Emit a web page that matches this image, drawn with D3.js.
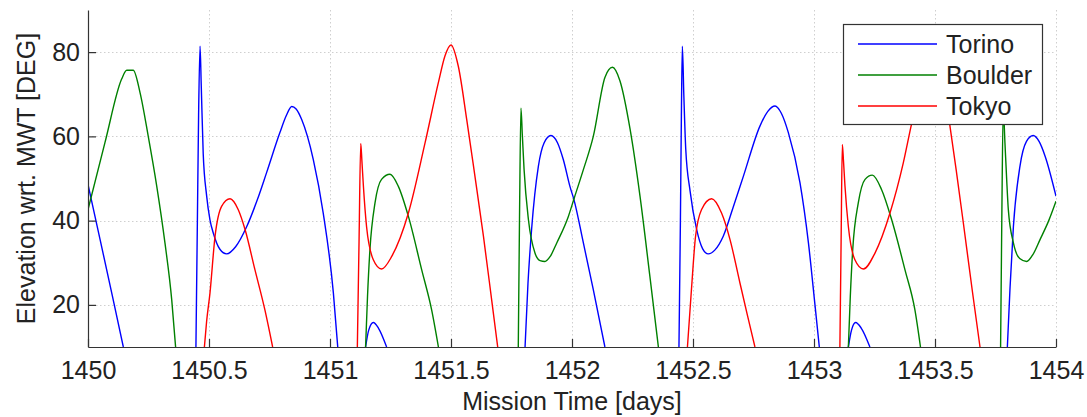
<!DOCTYPE html>
<html>
<head>
<meta charset="utf-8">
<script src="https://cdn.jsdelivr.net/npm/d3@7"></script>
<style>
  html, body { margin: 0; padding: 0; background: #fff; }
  svg { display: block; }
  text { font-family: "Liberation Sans", Arial, Helvetica, sans-serif; fill: #222; }
</style>
</head>
<body>
<svg id="chart" width="1087" height="417"></svg>
<script>
// ---- Data; null marks a break between passes ----
const seriesNames = ["Torino", "Boulder", "Tokyo"];
const seriesColors = ["#0000ff", "#008000", "#ff0000"];

const torinoT = [1450.000,1450.05,1450.1,1450.146, null,
  1450.446,1450.452,1450.457,1450.463,1450.468,1450.476,1450.49,1450.504,1450.518,1450.545,1450.573,1450.61,1450.656,1450.7,1450.738,1450.793,1450.82,1450.842,1450.86,1450.883,1450.931,1450.972,1451.014,1451.032, null,
  1451.147,1451.16,1451.179,1451.2,1451.234, null,
  1451.806,1451.818,1451.833,1451.861,1451.885,1451.913,1451.94,1451.964,1451.992,1452.008,1452.047,1452.088,1452.136, null,
  1452.442,1452.448,1452.452,1452.456,1452.462,1452.47,1452.488,1452.515,1452.54,1452.563,1452.59,1452.625,1452.665,1452.708,1452.777,1452.81,1452.839,1452.865,1452.894,1452.942,1452.977,1453.004,1453.022, null,
  1453.142,1453.155,1453.172,1453.195,1453.231, null,
  1453.799,1453.81,1453.824,1453.851,1453.878,1453.906,1453.93,1453.955,1454.0];
const torinoE = [48.6,35.5,22.3,10, null,
  10,40,65,81.4,72,56,46,40.2,37,33.2,32.1,33.8,38.6,45,51.4,60.9,65,67.1,66.5,64,54.5,41.8,22.8,10, null,
  10,14,15.8,14.5,10, null,
  10,25,37.9,52.9,58.5,60.2,58.5,54.5,48,45,34.7,23.6,10, null,
  10,40,65,81.4,70,57,47,37.9,33.3,32.1,33,36.3,43,50.5,62.5,66,67.2,65.5,60.9,49,34.7,20,10, null,
  10,14,15.8,14.5,10, null,
  10,24,38.6,52.9,58.8,60.2,58.8,55.3,45.8];

const boulderT = [1450.0,1450.07,1450.139,1450.16,1450.187,1450.215,1450.249,1450.284,1450.318,1450.346,1450.362, null,
  1451.147,1451.155,1451.165,1451.186,1451.213,1451.248,1451.282,1451.324,1451.379,1451.42,1451.448, null,
  1451.778,1451.783,1451.789,1451.795,1451.802,1451.82,1451.847,1451.868,1451.888,1451.91,1451.937,1451.985,1452.01,1452.047,1452.088,1452.136,1452.167,1452.198,1452.24,1452.281,1452.322,1452.357, null,
  1453.142,1453.15,1453.16,1453.183,1453.211,1453.241,1453.279,1453.321,1453.376,1453.417,1453.44, null,
  1453.771,1453.776,1453.782,1453.789,1453.796,1453.803,1453.824,1453.85,1453.879,1453.905,1453.934,1453.97,1454.0];
const boulderE = [42.6,58.5,73.6,75.7,75.7,70.4,60,48.2,34.7,21.2,10, null,
  10,22,33.1,44.2,49.8,51,48.2,41,28.3,18.8,10, null,
  10,40,66.7,60,52.1,40.2,32.3,30.5,30.3,31.5,34.7,41,45.5,52.1,60,74,76.4,73.2,61.7,45.8,26.7,10, null,
  10,22,33.1,44.2,49.8,50.8,47.4,40.2,28.3,18.8,10, null,
  10,40,66.7,58.5,50,42.6,34.7,31,30.3,32,35.5,40,44.6];

const tokyoT = [1450.481,1450.49,1450.504,1450.525,1450.552,1450.587,1450.621,1450.649,1450.69,1450.731,1450.763, null,
  1451.113,1451.12,1451.127,1451.132,1451.138,1451.151,1451.179,1451.213,1451.255,1451.324,1451.393,1451.448,1451.475,1451.5,1451.53,1451.565,1451.599,1451.634,1451.668,1451.693, null,
  1452.477,1452.494,1452.51,1452.535,1452.577,1452.618,1452.653,1452.694,1452.725,1452.756, null,
  1453.107,1453.112,1453.117,1453.122,1453.128,1453.142,1453.169,1453.204,1453.252,1453.314,1453.369,1453.403,1453.45,1453.493,1453.523,1453.558,1453.59,1453.617,1453.655,1453.686];
const tokyoE = [10,16,22.8,36.3,43.4,45.2,42.6,37.9,28.3,18.8,10, null,
  10,35,58.3,54,48.2,38.6,30.7,28.5,31.5,41.8,58.5,72.8,79.1,81.7,76.7,64,50.5,36.3,21.2,10, null,
  10,24,36,42.6,45.2,41.8,35.5,25.2,17.5,10, null,
  10,35,58.1,54,48.2,38.6,30.7,28.5,32.3,41.8,53.7,62.9,74,81.5,76.5,64,51,39.5,23,10];

const xTicks = [1450, 1450.5, 1451, 1451.5, 1452, 1452.5, 1453, 1453.5, 1454];
const xTickLabels = ["1450", "1450.5", "1451", "1451.5", "1452", "1452.5", "1453", "1453.5", "1454"];
const yTicks = [20, 40, 60, 80];
const yTickLabels = ["20", "40", "60", "80"];
const xTitle = "Mission Time [days]";
const yTitle = "Elevation wrt. MWT [DEG]";

// ---- Layout ----
const svg = d3.select("#chart");
const plot = { left: 88, right: 1056, top: 10, bottom: 347 };
const x = d3.scaleLinear().domain([1450, 1454]).range([plot.left, plot.right]);
const y = d3.scaleLinear().domain([10, 90]).range([plot.bottom, plot.top]);
const FS = 25;

svg.append("rect").attr("width", 1087).attr("height", 417).attr("fill", "#fff");

// Grid
const grid = svg.append("g").attr("stroke", "#cfcfcf").attr("stroke-width", 1).attr("stroke-dasharray", "1.5,2.5");
grid.selectAll("line.vx").data(xTicks.slice(1)).join("line")
  .attr("x1", d => Math.round(x(d)) + 0.5).attr("x2", d => Math.round(x(d)) + 0.5)
  .attr("y1", plot.top).attr("y2", plot.bottom);
grid.selectAll("line.hy").data(yTicks).join("line")
  .attr("x1", plot.left).attr("x2", plot.right)
  .attr("y1", d => Math.round(y(d)) + 0.5).attr("y2", d => Math.round(y(d)) + 0.5);

// Curves
svg.append("clipPath").attr("id", "clip").append("rect")
  .attr("x", plot.left).attr("y", plot.top)
  .attr("width", plot.right - plot.left).attr("height", plot.bottom - plot.top);

function toPoints(ts, es) { return ts.map((t, i) => [t, es[i]]); }
const seriesData = [toPoints(torinoT, torinoE), toPoints(boulderT, boulderE), toPoints(tokyoT, tokyoE)];
const line = d3.line()
  .defined(d => d[0] != null && d[1] != null)
  .x(d => x(d[0])).y(d => y(d[1]))
  .curve(d3.curveMonotoneX);
const curves = svg.append("g").attr("clip-path", "url(#clip)");
seriesData.forEach((pts, i) => {
  curves.append("path").attr("d", line(pts)).attr("fill", "none")
    .attr("stroke", seriesColors[i]).attr("stroke-width", 1.4).attr("stroke-linejoin", "round");
});

// Axes
const xAxis = d3.axisBottom(x).tickValues(xTicks).tickFormat((d, i) => xTickLabels[i]).tickSizeInner(-8).tickSizeOuter(0).tickPadding(20);
const gx = svg.append("g").attr("transform", `translate(0,${plot.bottom})`).call(xAxis);
const yAxis = d3.axisLeft(y).tickValues(yTicks).tickFormat((d, i) => yTickLabels[i]).tickSizeInner(-8).tickSizeOuter(0).tickPadding(16);
const gy = svg.append("g").attr("transform", `translate(${plot.left},0)`).call(yAxis);
[gx, gy].forEach(g => {
  g.select(".domain").attr("stroke", "#333").attr("stroke-width", 1.2);
  g.selectAll(".tick line").attr("stroke", "#333").attr("stroke-width", 1.2);
  g.selectAll(".tick text").attr("font-size", FS).attr("fill", "#222")
    .style("font-family", '"Liberation Sans", Arial, sans-serif');
});
gx.selectAll(".tick text").attr("dy", "0.71em").attr("y", 14);
gy.selectAll(".tick text").attr("x", -8);

// Titles
svg.append("text").attr("x", (plot.left + plot.right) / 2).attr("y", 410)
  .attr("text-anchor", "middle").attr("font-size", FS).text(xTitle);
svg.append("text").attr("transform", `translate(35,${(plot.top + plot.bottom) / 2}) rotate(-90)`)
  .attr("text-anchor", "middle").attr("font-size", FS).text(yTitle);

// Legend
const lg = svg.append("g");
lg.append("rect").attr("x", 843.5).attr("y", 24.5).attr("width", 199).attr("height", 100)
  .attr("fill", "#fff").attr("stroke", "#333").attr("stroke-width", 1.2);
const rowY = [44, 75, 106];
seriesNames.forEach((name, i) => {
  lg.append("line").attr("x1", 858).attr("x2", 937).attr("y1", rowY[i]).attr("y2", rowY[i])
    .attr("stroke", seriesColors[i]).attr("stroke-width", 1.4);
  lg.append("text").attr("x", 946).attr("y", rowY[i] + 8.5).attr("font-size", FS).text(name);
});
</script>
</body>
</html>
